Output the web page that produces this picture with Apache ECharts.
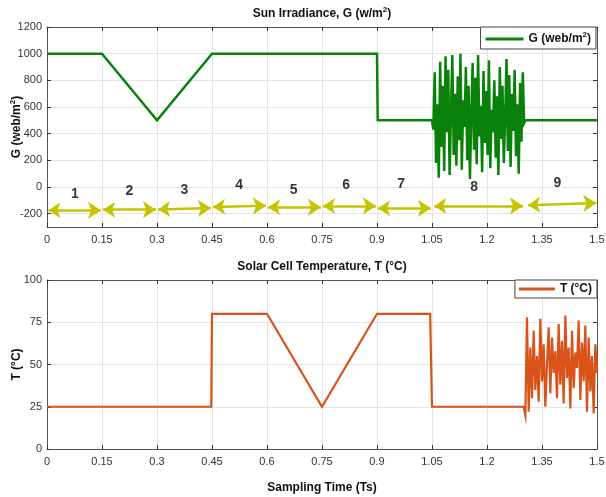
<!DOCTYPE html>
<html>
<head>
<meta charset="utf-8">
<script src="https://cdn.jsdelivr.net/npm/echarts@6/dist/echarts.min.js"></script>
<style>
  html, body { margin: 0; padding: 0; background: #fff; }
  #chart { width: 606px; height: 497px; }
</style>
</head>
<body>
<div id="chart"></div>
<script>
// ---- Irradiance profile G (W/m^2) ----
const gStepTimes  = [0, 0.15, 0.3, 0.45, 0.9, 0.902, 1.05];
const gStepValues = [1000, 1000, 500, 1000, 1000, 500, 500];
// fluctuating irradiance, sampled uniformly between 1.05 and 1.30
const gNoiseStart = 1.05, gNoiseEnd = 1.305;
const gNoiseValues = [500, 430, 860, 180, 620, 70, 940, 300, 760, 120, 980, 410, 880, 90, 560, 990,
  240, 700, 160, 830, 350, 1000, 130, 650, 450, 900, 200, 760, 60, 540, 930, 280, 820, 170, 990,
  380, 610, 110, 870, 330, 720, 240, 950, 140, 580, 410, 800, 220, 680, 90, 900, 360, 760, 180,
  520, 960, 270, 840, 150, 700, 420, 880, 230, 620, 100, 780, 340, 860, 480, 500];
const gTailTimes  = [1.305, 1.5];
const gTailValues = [500, 500];

// ---- Cell temperature profile T (°C) ----
const tStepTimes  = [0, 0.448, 0.45, 0.6, 0.75, 0.9, 1.045, 1.05, 1.30];
const tStepValues = [25, 25, 80, 80, 25, 80, 80, 25, 25];
const tNoiseStart = 1.30, tNoiseEnd = 1.5;
const tNoiseValues = [25, 20, 78, 22, 60, 30, 70, 35, 55, 28, 77, 40, 62, 25, 50, 72, 33, 66, 45,
  58, 30, 74, 38, 64, 27, 79, 42, 60, 24, 70, 36, 57, 48, 76, 29, 63, 40, 73, 22, 66, 34, 55, 21,
  62, 45];

// ---- Operating intervals 1..9 (double arrows along the bottom of the G plot) ----
const phaseNames   = ['1', '2', '3', '4', '5', '6', '7', '8', '9'];
const arrowStartT  = [0.004, 0.153, 0.303, 0.453, 0.603, 0.753, 0.903, 1.056, 1.312];
const arrowEndT    = [0.147, 0.297, 0.447, 0.597, 0.747, 0.897, 1.047, 1.298, 1.498];
const arrowStartG  = [-175, -170, -168, -150, -152, -142, -160, -142, -137];
const arrowEndG    = [-175, -170, -158, -140, -152, -142, -160, -142, -120];
const phaseLabelT  = [0.076, 0.225, 0.375, 0.524, 0.673, 0.816, 0.966, 1.165, 1.392];
const phaseLabelG  = [-50, -32, -20, 12, -20, 12, 20, 0, 30];

// axis ticks
const timeMin = 0, timeMax = 1.5, timeStep = 0.15;
const gMin = -300, gMax = 1200;
const tMin = 0, tMax = 100, tStep = 25;

function sampled(start, end, values) {
  const n = values.length;
  return values.map((v, i) => [start + (end - start) * i / (n - 1), v]);
}
function pairs(ts, vs) { return ts.map((t, i) => [t, vs[i]]); }

const gData = pairs(gStepTimes, gStepValues)
  .concat(sampled(gNoiseStart, gNoiseEnd, gNoiseValues))
  .concat(pairs(gTailTimes, gTailValues));
const tData = pairs(tStepTimes, tStepValues)
  .concat(sampled(tNoiseStart, tNoiseEnd, tNoiseValues));

const arrowData = phaseNames.map((_, i) => ({
  coords: [[arrowStartT[i], arrowStartG[i]], [arrowEndT[i], arrowEndG[i]]]
}));
const phaseLabelData = phaseNames.map((n, i) => ({ value: [phaseLabelT[i], phaseLabelG[i]], name: n }));

const FONT = 'Liberation Sans, Arial, Helvetica, sans-serif';
const GREEN = '#0a820a';
const ORANGE = '#d95319';
const ARROW = '#c4c400';
const richTitle = {
  a: { fontFamily: FONT, fontSize: 12, fontWeight: 'bold', color: '#111', lineHeight: 16 },
  s: { fontFamily: FONT, fontSize: 8, fontWeight: 'bold', color: '#111', lineHeight: 16, verticalAlign: 'top', padding: [0, 0, 7, 0] }
};
const plainNumber = v => String(Math.round(v * 100) / 100);

function timeAxis(gridIndex, opts) {
  return Object.assign({
    type: 'value', gridIndex, min: timeMin, max: timeMax, interval: timeStep,
    nameMoveOverlap: false,
    axisLine: { show: true, onZero: false, lineStyle: { color: '#555', width: 1 } },
    axisTick: { show: true, inside: true, length: 4, lineStyle: { color: '#333' } },
    axisLabel: { color: '#333', fontFamily: FONT, fontSize: 11, margin: 7, formatter: plainNumber },
    splitLine: { show: true, lineStyle: { color: '#e4e4e4', width: 1 } }
  }, opts || {});
}
function sideAxis(gridIndex, base, opts) {
  return Object.assign({
    type: 'value', gridIndex,
    nameMoveOverlap: false,
    axisLine: { show: true, onZero: false, lineStyle: { color: '#555', width: 1 } },
    axisTick: { show: true, inside: true, length: 4, lineStyle: { color: '#333' } },
    axisLabel: { color: '#333', fontFamily: FONT, fontSize: 11, margin: 5, formatter: plainNumber },
    splitLine: { show: true, lineStyle: { color: '#e4e4e4', width: 1 } }
  }, base, opts || {});
}

const gRange = { min: gMin, max: gMax, splitNumber: 7 };
const tRange = { min: tMin, max: tMax, interval: tStep };

const option = {
  animation: false,
  backgroundColor: '#fff',
  grid: [
    { left: 47, right: 9, top: 27, height: 200, containLabel: false, outerBoundsMode: 'none' },
    { left: 47, right: 9, top: 280, height: 169, containLabel: false, outerBoundsMode: 'none' }
  ],
  xAxis: [
    timeAxis(0, { position: 'bottom' }),
    timeAxis(0, { position: 'top', axisLabel: { show: false }, splitLine: { show: false },
      name: '{a|Sun Irradiance, G (w/m}{s|2}{a|)}', nameLocation: 'middle', nameGap: 5,
      nameTextStyle: { rich: richTitle } }),
    timeAxis(1, { position: 'bottom',
      name: '{a|Sampling Time (Ts)}', nameLocation: 'middle', nameGap: 31,
      nameTextStyle: { rich: richTitle } }),
    timeAxis(1, { position: 'top', axisLabel: { show: false }, splitLine: { show: false },
      name: '{a|Solar Cell Temperature, T (°C)}', nameLocation: 'middle', nameGap: 5,
      nameTextStyle: { rich: richTitle } })
  ],
  yAxis: [
    sideAxis(0, gRange, { position: 'left',
      axisLabel: { color: '#333', fontFamily: FONT, fontSize: 11, margin: 5, showMinLabel: false, formatter: plainNumber },
      name: '{a|G (web/m}{s|2}{a|)}', nameLocation: 'middle', nameGap: 22, nameRotate: 90,
      nameTextStyle: { rich: richTitle } }),
    sideAxis(0, gRange, { position: 'right', axisLabel: { show: false }, splitLine: { show: false } }),
    sideAxis(1, tRange, { position: 'left',
      name: '{a|T (°C)}', nameLocation: 'middle', nameGap: 22, nameRotate: 90,
      nameTextStyle: { rich: richTitle } }),
    sideAxis(1, tRange, { position: 'right', axisLabel: { show: false }, splitLine: { show: false } })
  ],
  legend: [
    { data: ['G'], right: 10, top: 27, orient: 'vertical', icon: 'rect', itemWidth: 38, itemHeight: 3,
      itemGap: 4, padding: [4, 5, 3, 5], backgroundColor: '#fff', borderColor: '#444', borderWidth: 1,
      borderRadius: 0, selectedMode: false,
      formatter: () => '{a|G (web/m}{s|2}{a|)}', textStyle: { rich: richTitle } },
    { data: ['T'], right: 9, top: 280, orient: 'vertical', icon: 'rect', itemWidth: 36, itemHeight: 3,
      padding: [3, 5, 3, 4], backgroundColor: '#fff', borderColor: '#444', borderWidth: 1,
      borderRadius: 0, selectedMode: false,
      formatter: () => '{a|T (°C)}', textStyle: { rich: richTitle } }
  ],
  series: [
    {
      name: 'G', type: 'line', xAxisIndex: 0, yAxisIndex: 0, data: gData,
      showSymbol: false, symbol: 'none', color: GREEN,
      lineStyle: { color: GREEN, width: 2.5, join: 'miter' }, z: 3
    },
    {
      name: 'phases', type: 'lines', coordinateSystem: 'cartesian2d', xAxisIndex: 0, yAxisIndex: 0,
      polyline: false, data: arrowData, symbol: ['arrow', 'arrow'], symbolSize: [12, 13],
      lineStyle: { color: ARROW, width: 2.5, opacity: 1 }, z: 4
    },
    {
      name: 'phaseLabels', type: 'scatter', xAxisIndex: 0, yAxisIndex: 0, data: phaseLabelData,
      symbolSize: 0, silent: true,
      label: { show: true, position: 'inside', formatter: p => p.name,
        fontFamily: FONT, fontSize: 14, fontWeight: 'bold', color: '#000' }, z: 5
    },
    {
      name: 'T', type: 'line', xAxisIndex: 2, yAxisIndex: 2, data: tData,
      showSymbol: false, symbol: 'none', color: ORANGE,
      lineStyle: { color: ORANGE, width: 2.2, join: 'miter' }, z: 3
    }
  ]
};

const chart = echarts.init(document.getElementById('chart'), null, { renderer: 'canvas' });
chart.setOption(option);
</script>
</body>
</html>
